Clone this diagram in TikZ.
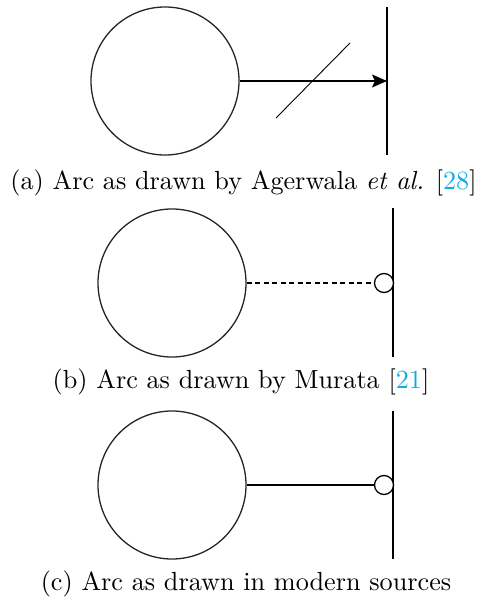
\documentclass[tikz,border=0pt]{standalone}
\usepackage{fontspec}
\setmainfont{lmroman10-regular.otf}[ItalicFont=lmroman10-italic.otf]
\usetikzlibrary{arrows.meta}
\definecolor{linkcyan}{RGB}{20,170,225}
\begin{document}
\begin{tikzpicture}[x=1pt,y=-1pt,
  place/.style={draw=black!85,line width=1.3pt,circle,minimum size=148pt,inner sep=0pt},
  bar/.style={line width=1.8pt},
  arcline/.style={line width=1.6pt},
  smallcirc/.style={draw,circle,line width=1.3pt,minimum size=19pt,inner sep=0pt,fill=white},
  captext/.style={font=\fontsize{26.2}{30}\selectfont,inner sep=0pt}]
\useasboundingbox (0,0) rectangle (479,607);
% (a)
\node[place] (pa) at (165,81) {};
\coordinate (ta1) at (387,7);
\coordinate (ta2) at (387,155);
\coordinate (ha) at (387,81);
\draw[bar] (ta1) -- (ta2);
\draw[arcline,-{Stealth[length=15pt,width=13pt,inset=3pt]}] (pa.east) -- (ha);
\coordinate (sa1) at (276,118);
\coordinate (sa2) at (350,43);
\draw[line width=0.9pt] (sa1) -- (sa2);
\node[captext] (capa) at (243.5,183) {(a) Arc as drawn by Agerwala \textit{et al.} [{\color{linkcyan}28}]};
% (b)
\node[place] (pb) at (172,283) {};
\coordinate (tb1) at (393,208);
\coordinate (tb2) at (393,357);
\draw[bar] (tb1) -- (tb2);
\node[smallcirc] (ib) at (384,283) {};
\draw[arcline,dashed,dash pattern=on 5pt off 3.5pt,line width=1.4pt] (pb.east) -- (ib.west);
\node[captext] (capb) at (241,382) {(b) Arc as drawn by Murata [{\color{linkcyan}21}]};
% (c)
\node[place] (pc) at (172,485) {};
\coordinate (tc1) at (393,411);
\coordinate (tc2) at (393,559);
\draw[bar] (tc1) -- (tc2);
\node[smallcirc] (ic) at (384,485) {};
\draw[arcline] (pc.east) -- (ic.west);
\node[captext] (capc) at (246,584) {(c) Arc as drawn in modern sources};
\end{tikzpicture}
\end{document}
